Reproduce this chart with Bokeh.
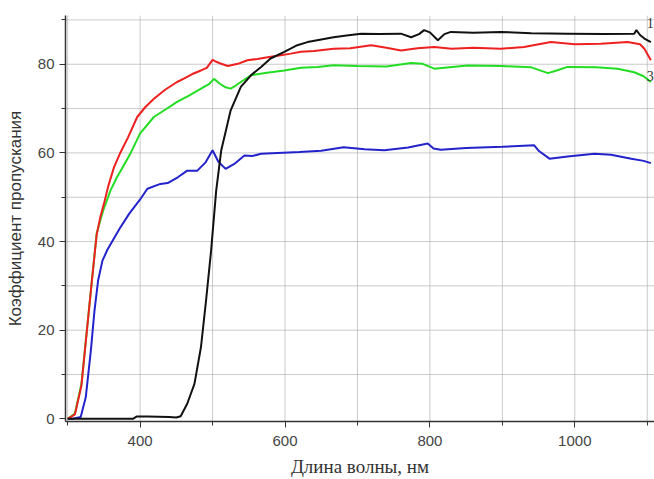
from bokeh.plotting import figure
from bokeh.models import Range1d, SingleIntervalTicker
from bokeh.core.properties import value
from bokeh.embed import file_html
from bokeh.resources import INLINE

# ---- data ----
wl_black = [300, 350, 390, 395, 410, 440, 450, 456, 465, 475, 484, 491, 498, 505, 512,
            525, 539, 553, 567, 580, 599, 617, 631, 650, 667, 685, 705, 730, 760, 774,
            785, 792, 800, 811, 820, 829, 860, 898, 940, 990, 1040, 1082, 1085, 1090,
            1096, 1105]
t_black = [0, 0, 0, 0.5, 0.5, 0.4, 0.3, 0.6, 3.4, 7.9, 16.2, 26.7, 38, 51.5, 60.6,
           69.6, 74.9, 77.5, 79.4, 81.3, 82.8, 84.3, 85, 85.6, 86.1, 86.5, 86.9, 86.8, 86.9, 86.1,
           86.8, 87.7, 87.2, 85.4, 86.8, 87.3, 87.1, 87.3, 87.0, 86.9, 86.8, 86.9, 87.7, 86.6,
           85.8, 85.0]

wl_red = [300, 310, 319, 326, 333, 340, 345, 350, 356, 364, 372, 383, 396, 407, 419, 435,
          451, 461, 472, 484, 492, 500, 506, 512, 521, 535, 548, 562, 576, 592, 608, 622,
          640, 667, 690, 719, 740, 760, 783, 806, 830, 860, 898, 930, 967, 1000, 1036,
          1073, 1090, 1096, 1105]
t_red = [0, 1.0, 7.5, 19, 30.5, 41.5, 45.5, 48.5, 52.5, 56.8, 59.8, 63.4, 68.1, 70.3, 72.2, 74.3,
         76, 76.8, 77.8, 78.6, 79.2, 81, 80.5, 80.1, 79.6, 80.1, 80.9, 81.2, 81.6, 82.0, 82.4, 82.8,
         83, 83.5, 83.6, 84.3, 83.7, 83.1, 83.6, 83.9, 83.5, 83.7, 83.5, 83.9, 85, 84.5, 84.6,
         85, 84.5, 83.5, 80.9]

wl_green = [300, 310, 319, 326, 333, 340, 349, 359, 368, 375, 387, 400, 419, 435, 451, 468,
            484, 495, 502, 510, 518, 525, 532, 539, 553, 575, 599, 622, 645, 667, 700, 740,
            774, 790, 806, 852, 900, 940, 963, 975, 990, 1030, 1059, 1082, 1095, 1105]
t_green = [0, 1.2, 7.9, 19.2, 30.5, 41.8, 47, 51.5, 54.5, 56.5, 60, 64.4, 68.1, 69.8, 71.5, 73,
           74.5, 75.5, 76.7, 75.6, 74.8, 74.5, 75.2, 76, 77.5, 78.1, 78.6, 79.2, 79.4, 79.8, 79.6, 79.5,
           80.3, 80.1, 79.0, 79.7, 79.6, 79.3, 78.0, 78.6, 79.4, 79.3, 79.0, 78.2, 77.3, 76.0]

wl_blue = [300, 307, 318, 325, 332, 337, 342, 348, 355, 362, 372, 385, 400, 410, 428, 438,
           452, 465, 479, 490, 500, 508, 518, 530, 544, 555, 567, 590, 620, 650, 681, 710,
           737, 770, 797, 805, 815, 850, 900, 944, 950, 965, 990, 1027, 1050, 1078, 1095, 1105]
t_blue = [0, 0, 0.4, 4.9, 15.4, 24.4, 31.2, 35.7, 38.2, 40.2, 43, 46.3, 49.5, 51.9, 53, 53.2,
          54.5, 56, 56, 57.8, 60.6, 58, 56.4, 57.5, 59.4, 59.3, 59.8, 60, 60.2, 60.5, 61.3, 60.8,
          60.6, 61.2, 62.1, 61.0, 60.7, 61.1, 61.4, 61.7, 60.5, 58.7, 59.2, 59.8, 59.6, 58.7, 58.2, 57.7]

grid_x = [300, 400, 500, 600, 700, 800, 900, 1000, 1100]
grid_y = [10, 20, 30, 40, 50, 60, 70, 80, 90]
x_lo, x_hi = 297, 1110
y_lo, y_hi = -0.6, 91

curve_labels = ["1", "3"]
curve_label_x = [1109, 1109]
curve_label_y = [89.3, 77.3]

# ---- figure ----
p = figure(width=654, height=479, output_backend="svg", toolbar_location=None,
           x_range=Range1d(x_lo, x_hi), y_range=Range1d(y_lo, y_hi))
p.min_border_left = 65
p.min_border_right = 0
p.min_border_top = 15
p.min_border_bottom = 58
p.outline_line_color = None
p.background_fill_color = "white"
p.border_fill_color = "white"

xt = SingleIntervalTicker(interval=200, num_minor_ticks=2)
yt = SingleIntervalTicker(interval=20, num_minor_ticks=2)
p.xaxis.ticker = xt
p.yaxis.ticker = yt
p.xgrid.visible = False
p.ygrid.visible = False

# light grid drawn as plain segments under the curves
p.segment(x0=grid_x, y0=[y_lo] * len(grid_x), x1=grid_x, y1=[y_hi] * len(grid_x),
          line_color="#a8a8a8", line_width=1, line_alpha=0.6)
p.segment(x0=[x_lo] * len(grid_y), y0=grid_y, x1=[x_hi] * len(grid_y), y1=grid_y,
          line_color="#a8a8a8", line_width=1, line_alpha=0.6)

for ax in (p.xaxis, p.yaxis):
    ax.axis_line_color = "#333333"
    ax.axis_line_width = 1.5
    ax.major_tick_line_color = "#333333"
    ax.minor_tick_line_color = "#333333"
    ax.major_tick_in = 0
    ax.major_tick_out = 6
    ax.minor_tick_in = 0
    ax.minor_tick_out = 4
    ax.major_label_text_font = "Liberation Sans"
    ax.major_label_text_font_size = "15px"
    ax.major_label_text_color = "#444444"

p.yaxis.major_label_standoff = 5
p.xaxis.major_label_standoff = 8

p.yaxis.axis_label = "Коэффициент пропускания"
p.yaxis.axis_label_text_font = "Liberation Sans"
p.yaxis.axis_label_text_font_size = "17px"
p.yaxis.axis_label_text_font_style = "normal"
p.yaxis.axis_label_text_color = "#333333"
p.yaxis.axis_label_standoff = 10

p.xaxis.axis_label = "Длина волны, нм"
p.xaxis.axis_label_text_font = "Liberation Serif"
p.xaxis.axis_label_text_font_size = "19px"
p.xaxis.axis_label_text_font_style = "normal"
p.xaxis.axis_label_text_color = "#333333"
p.xaxis.axis_label_standoff = 7

p.line(wl_blue, t_blue, line_color="#2323cc", line_width=2)
p.line(wl_green, t_green, line_color="#22dd22", line_width=2)
p.line(wl_red, t_red, line_color="#ee2020", line_width=2)
p.line(wl_black, t_black, line_color="#111111", line_width=2)

p.text(x=curve_label_x, y=curve_label_y, text=curve_labels, text_font=value("Liberation Serif"),
       text_font_size="14px", text_color="#333333", text_baseline="middle", text_align="right")

open("out.html", "w").write(file_html(p, INLINE))
